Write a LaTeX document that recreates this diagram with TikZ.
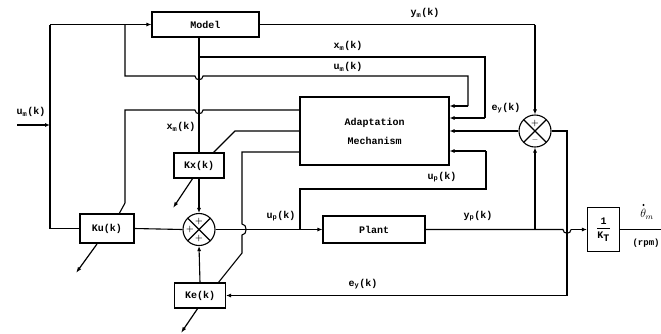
\documentclass[tikz,border=0pt]{standalone}
\usepackage{fontspec}
\setmonofont{Liberation Mono}
\usetikzlibrary{arrows.meta}
\begin{document}
\begin{tikzpicture}[x=1pt,y=-1pt, line width=1.1pt,
  txt/.style={font=\ttfamily\bfseries\fontsize{10}{11}\selectfont},
  box/.style={draw, rectangle, inner sep=0pt, txt},
  lbl/.style={txt, inner sep=1pt},
  arr/.style={-{Latex[length=5pt,width=4pt]}},
  adj/.style={-{Latex[length=6pt,width=4pt]}, line width=1.2pt},
  sumj/.style={draw, circle, minimum size=32pt, inner sep=0pt,
    path picture={\draw (path picture bounding box.north west)--(path picture bounding box.south east)
      (path picture bounding box.north east)--(path picture bounding box.south west);}},
  sgn/.style={font=\bfseries\fontsize{8}{8}\selectfont, inner sep=0pt}
]
\useasboundingbox (0,0) rectangle (661,333);

% blocks
\node[box, minimum width=107pt, minimum height=25pt] (model) at (205.5,24.5) {Model};
\node[box, minimum width=149pt, minimum height=68pt, align=center] (adapt) at (374.5,131) {Adaptation\\[8pt]Mechanism};
\node[box, minimum width=102pt, minimum height=27pt] (plant) at (374,229.5) {Plant};
\node[box, minimum width=32pt, minimum height=44pt] (kt) at (603.5,229.5) {$\displaystyle\frac{\texttt{\bfseries 1}}{\texttt{\bfseries K}_{\texttt{\bfseries T}}}$};
\node[box, minimum width=54pt, minimum height=29pt] (ku) at (107,228.5) {Ku(k)};
\node[box, minimum width=50pt, minimum height=25pt] (kx) at (199,165.5) {Kx(k)};
\node[box, minimum width=51pt, minimum height=25pt] (ke) at (200,295.5) {Ke(k)};
\node[sumj] (s1) at (535,131) {};
\node[sumj] (s2) at (199,229.5) {};
\node[sgn] at (535,123) {+};
\node[sgn] at (535,141) {--};
\node[sgn] at (199,221) {+};
\node[sgn] at (190,229.5) {+};
\node[sgn] at (199,238) {+};

% coordinates
\coordinate (in) at (17,125);
\coordinate (jin) at (50,125);
\coordinate (tl) at (50,24.5);
\coordinate (bl) at (50,228.5);
\coordinate (br) at (125,24.5);
\coordinate (um1) at (125,76);
\coordinate (um2) at (468,76);
\coordinate (um3) at (468,106);
\coordinate (xm1) at (199,57);
\coordinate (xm2) at (485,57);
\coordinate (xm3) at (485,118);
\coordinate (ym1) at (535,24.5);
\coordinate (ey1) at (567,131);
\coordinate (ey2) at (567,295.5);
\coordinate (yp1) at (535,229.5);
\coordinate (out) at (661,229.5);
\coordinate (up1) at (300,229.5);
\coordinate (up2) at (300,189);
\coordinate (up3) at (486,189);
\coordinate (up4) at (486,151);
\coordinate (ku1) at (125,110);
\coordinate (ku2) at (125,203);
\coordinate (ku3) at (119,214);
\coordinate (kx1) at (235,131);
\coordinate (kx2) at (213,153);
\coordinate (ke1) at (242,152);
\coordinate (ke2) at (242,253);
\coordinate (ke3) at (218,283);

% signal lines
\draw[arr] (in) -- (jin);
\draw (tl) -- (bl) -- (ku.west);
\draw[arr] (tl) -- (model.west);
\draw (br) -- (um1) -- (195,76) .. controls (195,81) and (203,81) .. (203,76) -- (um2) -- (um3);
\draw[arr] (um3) -- (um3 -| adapt.east);
\draw (kx.north |- model.south) -- (kx.north);
\draw (xm1) -- (xm2) -- (xm3);
\draw[arr] (xm3) -- (xm3 -| adapt.east);
\draw (model.east) -- (ym1);
\draw[arr] (ym1) -- (s1.north);
\draw[arr] (s1.west) -- (s1.west -| adapt.east);
\draw (s1.east) -- (ey1) -- (ey2);
\draw[arr] (ey2) -- (ke.east);
\draw (plant.east) -- (563,229.5) .. controls (563,234.5) and (571,234.5) .. (571,229.5);
\draw[arr] (571,229.5) -- (kt.west);
\draw[arr] (yp1) -- (s1.south);
\draw (kt.east) -- (out);
\draw (ku.east) -- (s2.west);
\draw[arr] (kx.south) -- (s2.north);
\draw[arr] (ke.north) -- (s2.south);
\draw[arr] (s2.east) -- (plant.west);
\draw (up1) -- (up2) -- (up3) -- (up4);
\draw[arr] (up4) -- (up4 -| adapt.east);

% adaptation outputs
\draw (ku1 -| adapt.west) -- (203,110) .. controls (203,115) and (195,115) .. (195,110) -- (ku1) -- (ku2) -- (ku3);
\draw (kx1 -| adapt.west) -- (kx1) -- (kx2);
\draw (ke1 -| adapt.west) -- (ke1) -- (242,224) .. controls (247.5,224) and (247.5,235) .. (242,235) -- (ke2) -- (ke3);

% adjustment arrows
\draw[adj] (97,244) -- (76,273);
\draw[adj] (193,178) -- (173,208);
\draw[adj] (198,308) -- (181,333);

% labels
\node[lbl] at (31,112) {u\textsubscript{m}(k)};
\node[lbl] at (425,13) {y\textsubscript{m}(k)};
\node[lbl] at (348,46) {x\textsubscript{m}(k)};
\node[lbl] at (348,67) {u\textsubscript{m}(k)};
\node[lbl] at (181,127) {x\textsubscript{m}(k)};
\node[lbl] at (506,108) {e\textsubscript{y}(k)};
\node[lbl] at (442,177) {u\textsubscript{p}(k)};
\node[lbl] at (281,216) {u\textsubscript{p}(k)};
\node[lbl] at (478,216) {y\textsubscript{p}(k)};
\node[lbl] at (363,284) {e\textsubscript{y}(k)};
\node[lbl, font=\fontsize{12}{12}\selectfont] (theta) at (647,214) {$\theta_{m}$};
\fill (643.5,205) circle (1.1pt);
\node[lbl, anchor=west, font=\ttfamily\bfseries\fontsize{9}{10}\selectfont] at (631,243) {(rpm)};
\end{tikzpicture}
\end{document}
